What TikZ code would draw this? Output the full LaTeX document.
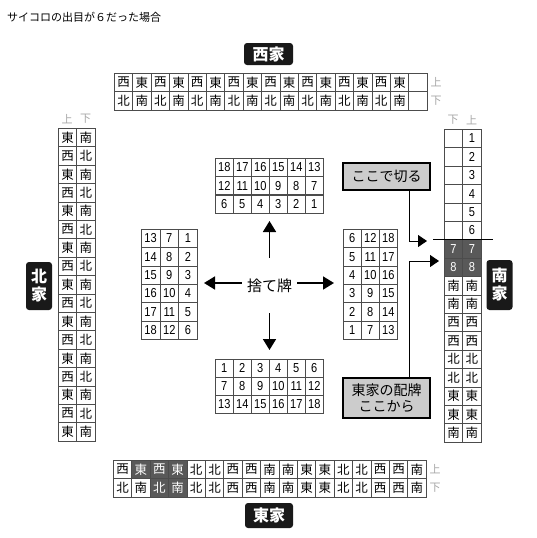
\documentclass[tikz,border=0pt]{standalone}
\usepackage{fontspec}
\setmainfont{Noto Sans CJK JP}
\newfontfamily\numfont[FakeStretch=0.85]{Liberation Sans}
\usetikzlibrary{arrows.meta}
\newcommand{\tilefont}{\fontsize{12.5pt}{13pt}\selectfont}
\newcommand{\lblfont}{\fontsize{11pt}{12pt}\selectfont}
\newcommand{\gridfont}{\numfont\fontsize{13pt}{14pt}\selectfont}
\newcommand{\housefont}{\bfseries\fontsize{16pt}{18pt}\selectfont}
\newcommand{\callfont}{\fontsize{14pt}{16pt}\selectfont}
\tikzset{
  tile/.style={draw=black!70, line width=0.6pt, minimum width=18.4pt, minimum height=18.4pt, inner sep=0pt, anchor=north west, font=\tilefont},
  dtile/.style={tile, fill=black!65, text=white},
  ntile/.style={tile, font=\gridfont},
  dntile/.style={dtile, font=\gridfont},
  gcell/.style={draw=black!70, line width=0.6pt, minimum height=18.3pt, inner sep=0pt, anchor=north west, font=\gridfont},
  ulabel/.style={text=black!35, font=\lblfont, inner sep=0pt},
  house/.style={fill=black!90, rounded corners=3pt, text=white, font=\housefont, inner sep=0pt, align=center},
  arr/.style={line width=1.7pt, -{Triangle[length=11pt,width=13pt]}},
  callarr/.style={line width=1pt, -{Triangle[length=9pt,width=12pt]}},
  callout/.style={draw=black, line width=1.2pt, fill=black!20, font=\callfont, align=center, inner sep=0pt, minimum width=87pt},
}
\begin{document}
\begin{tikzpicture}[x=1pt,y=-1pt]
\useasboundingbox (0,0) rectangle (536,538);
% title
\node[anchor=west, font=\fontsize{11pt}{12pt}\selectfont, inner sep=0pt] (title) at (7,17) {サイコロの出目が６だった場合};

% ---- top wall (West) ----
\node[house, minimum width=49pt, minimum height=22pt] (west) at (268.5,54) {西家};
\foreach \t [count=\i] in {西,東,西,東,西,東,西,東,西,東,西,東,西,東,西,東,{}}
  \node[tile] (tu\i) at ({114+(\i-1)*18.4},73) {\t};
\foreach \t [count=\i] in {北,南,北,南,北,南,北,南,北,南,北,南,北,南,北,南,{}}
  \node[tile] (td\i) at ({114+(\i-1)*18.4},91.4) {\t};
\node[ulabel] (tul) at (436,82.2) {上};
\node[ulabel] (tdl) at (436,100.6) {下};

% ---- bottom wall (East) ----
\foreach \t/\s [count=\i] in {西/tile,東/dtile,西/dtile,東/dtile,北/tile,北/tile,西/tile,西/tile,南/tile,南/tile,東/tile,東/tile,北/tile,北/tile,西/tile,西/tile,南/tile}
  \node[\s] (bu\i) at ({113+(\i-1)*18.4},460) {\t};
\foreach \t/\s [count=\i] in {北/tile,南/tile,北/dtile,南/dtile,北/tile,北/tile,西/tile,西/tile,南/tile,南/tile,東/tile,東/tile,北/tile,北/tile,西/tile,西/tile,南/tile}
  \node[\s] (bd\i) at ({113+(\i-1)*18.4},478.4) {\t};
\node[ulabel] (bul) at (435,469.2) {上};
\node[ulabel] (bdl) at (435,487.6) {下};
\node[house, minimum width=48pt, minimum height=25pt] (east) at (269,515.5) {東家};

% ---- left wall (North) ----
\foreach \t [count=\i] in {東,西,東,西,東,西,東,西,東,西,東,西,東,西,東,西,東}
  \node[tile] (lu\i) at (58,{128+(\i-1)*18.4}) {\t};
\foreach \t [count=\i] in {南,北,南,北,南,北,南,北,南,北,南,北,南,北,南,北,南}
  \node[tile] (ld\i) at (76.4,{128+(\i-1)*18.4}) {\t};
\node[ulabel] (lul) at (67.2,119) {上};
\node[ulabel] (ldl) at (85.6,119) {下};
\node[house, minimum width=26pt, minimum height=48pt] (north) at (39,286) {北\\家};

% ---- right wall (South) ----
\foreach \t/\s [count=\i] in {{}/tile,{}/tile,{}/tile,{}/tile,{}/tile,{}/tile,7/dntile,8/dntile,南/tile,南/tile,西/tile,西/tile,北/tile,北/tile,東/tile,東/tile,南/tile}
  \node[\s] (rd\i) at (444,{129+(\i-1)*18.4}) {\t};
\foreach \t/\s [count=\i] in {1/ntile,2/ntile,3/ntile,4/ntile,5/ntile,6/ntile,7/dntile,8/dntile,南/tile,南/tile,西/tile,西/tile,北/tile,北/tile,東/tile,東/tile,南/tile}
  \node[\s] (ru\i) at (462.4,{129+(\i-1)*18.4}) {\t};
\node[ulabel] (rdl) at (453.2,120) {下};
\node[ulabel] (rul) at (471.6,120) {上};
\node[house, minimum width=26pt, minimum height=50pt] (south) at (499.5,285) {南\\家};
\coordinate (cutL) at (433,239.4);
\coordinate (cutR) at (493,239.4);
\draw[line width=1pt] (cutL) -- (cutR);

% ---- center grids ----
\foreach \r/\row in {0/{18,17,16,15,14,13},1/{12,11,10,9,8,7},2/{6,5,4,3,2,1}}
  \foreach \t [count=\c] in \row
    \node[gcell, minimum width=18pt] (gt\r-\c) at ({215+(\c-1)*18},{158+\r*18.2}) {\t};
\foreach \r/\row in {0/{1,2,3,4,5,6},1/{7,8,9,10,11,12},2/{13,14,15,16,17,18}}
  \foreach \t [count=\c] in \row
    \node[gcell, minimum width=18pt] (gb\r-\c) at ({215+(\c-1)*18},{358.5+\r*18.2}) {\t};
\foreach \r/\row in {0/{13,7,1},1/{14,8,2},2/{15,9,3},3/{16,10,4},4/{17,11,5},5/{18,12,6}}
  \foreach \t [count=\c] in \row
    \node[gcell, minimum width=18.67pt] (gl\r-\c) at ({141+(\c-1)*18.67},{229+\r*18.33}) {\t};
\foreach \r/\row in {0/{6,12,18},1/{5,11,17},2/{4,10,16},3/{3,9,15},4/{2,8,14},5/{1,7,13}}
  \foreach \t [count=\c] in \row
    \node[gcell, minimum width=18pt] (gr\r-\c) at ({343+(\c-1)*18},{229+\r*18.33}) {\t};

% ---- discard arrows ----
\node[minimum width=55pt, minimum height=55pt, inner sep=0pt, font=\fontsize{15pt}{16pt}\selectfont] (discard) at (269.5,285.5) {捨て牌};
\coordinate (tipU) at (269.5,221);
\coordinate (tipD) at (269.5,350);
\coordinate (tipL) at (204,283);
\coordinate (tipR) at (334,283);
\draw[arr] (discard.north) -- (tipU);
\draw[arr] (discard.south) -- (tipD);
\draw[arr] (discard.west |- tipL) -- (tipL);
\draw[arr] (discard.east |- tipR) -- (tipR);

% ---- callouts ----
\node[callout, minimum height=27pt] (cut) at (386.5,176.5) {ここで切る};
\node[callout, minimum height=40pt] (deal) at (386.5,398) {東家の配牌\\ここから};
\coordinate (tip1) at (427,241);
\coordinate (tip2) at (439,261);
\draw[callarr] ([xshift=22.5pt]cut.south) |- (tip1);
\draw[callarr] ([xshift=22.5pt]deal.north) |- (tip2);
\end{tikzpicture}
\end{document}
